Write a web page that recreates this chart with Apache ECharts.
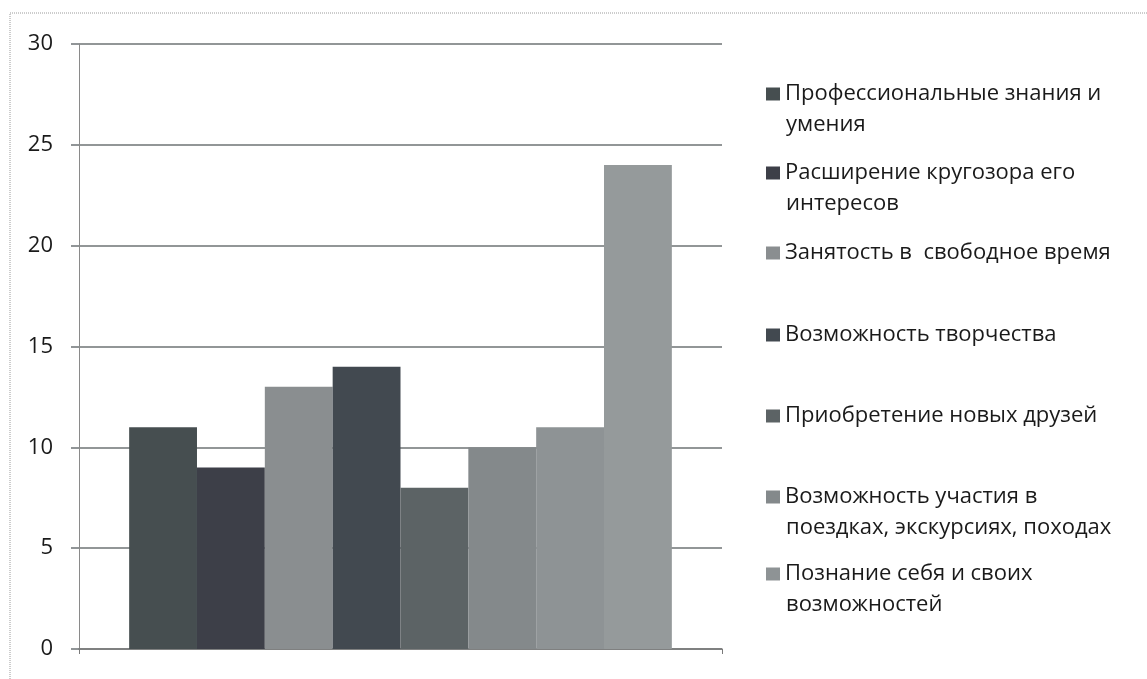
<!DOCTYPE html>
<html>
<head>
<meta charset="utf-8">
<script src="https://cdn.jsdelivr.net/npm/echarts@6/dist/echarts.min.js"></script>
<style>
  html, body { margin: 0; padding: 0; background: #fff; }
  #chart { width: 1147px; height: 679px; }
</style>
</head>
<body>
<div id="chart"></div>
<script>
const CATEGORIES = [''];
const SERIES_NAMES = [
    'Профессиональные знания и умения',
    'Расширение кругозора его интересов',
    'Занятость в  свободное время',
    'Возможность творчества',
    'Приобретение новых друзей',
    'Возможность участия в поездках, экскурсиях, походах',
    'Познание себя и своих возможностей',
    ''
];
// legend text as it wraps in the picture
const LEGEND_LINES = [
    ['Профессиональные знания и', 'умения'],
    ['Расширение кругозора его', 'интересов'],
    ['Занятость в  свободное время'],
    ['Возможность творчества'],
    ['Приобретение новых друзей'],
    ['Возможность участия в', 'поездках, экскурсиях, походах'],
    ['Познание себя и своих', 'возможностей']
];
const VALUES = [11, 9, 13, 14, 8, 10, 11, 24];
const Y_MIN = 0, Y_MAX = 30, Y_STEP = 5;

const COLORS = ['#464e50', '#3d3f48', '#8a8e90', '#424950', '#5c6365', '#84898b', '#8e9395', '#959a9b'];
const LEGEND_CENTERS = [94, 173, 253, 335, 416, 497, 574];
const FONT = '"Open Sans", "Noto Sans", sans-serif';
const LEG_FONT = 22;
const LINE_H = 31;
const LEG_X = 766;
const SWATCH = 14;
const TEXT_X = LEG_X + SWATCH + 6;

const chart = echarts.init(document.getElementById('chart'));

const legends = LEGEND_LINES.map((lines, i) => ({
    data: [{ name: SERIES_NAMES[i], icon: 'rect' }],
    left: LEG_X,
    top: LEGEND_CENTERS[i] - LINE_H / 2,
    padding: 0,
    itemWidth: SWATCH,
    itemHeight: 13,
    itemGap: 6,
    selectedMode: false,
    formatter: () => lines[0],
    textStyle: {
        fontFamily: FONT,
        fontSize: LEG_FONT,
        lineHeight: LINE_H,
        color: '#1a1a1a'
    }
}));

// second lines of the wrapped legend entries
const wrapTexts = [];
LEGEND_LINES.forEach((lines, i) => {
    if (lines.length > 1) {
        wrapTexts.push({
            type: 'text',
            x: TEXT_X,
            y: LEGEND_CENTERS[i] + LINE_H,
            silent: true,
            style: {
                text: lines[1],
                fontFamily: FONT,
                fontSize: LEG_FONT,
                fill: '#1a1a1a',
                verticalAlign: 'middle'
            }
        });
    }
});

chart.setOption({
    backgroundColor: '#ffffff',
    animation: false,
    color: COLORS,
    grid: {
        left: 79,
        right: 425,
        top: 44,
        bottom: 30
    },
    graphic: [{
        type: 'rect',
        shape: { x: 10, y: 13, width: 1300, height: 800 },
        style: { fill: 'none', stroke: '#9a9a9a', lineWidth: 1, lineDash: [1, 1] },
        silent: true
    }].concat(wrapTexts),
    legend: legends,
    xAxis: {
        type: 'category',
        data: CATEGORIES,
        axisLine: { show: true, lineStyle: { color: '#7a7a7a', width: 1.5 } },
        axisTick: { show: true, length: 5, lineStyle: { color: '#7a7a7a' } },
        axisLabel: { show: false }
    },
    yAxis: {
        type: 'value',
        min: Y_MIN,
        max: Y_MAX,
        interval: Y_STEP,
        axisLine: { show: true, lineStyle: { color: '#8a8a8a', width: 1 } },
        axisTick: { show: true, length: 8, lineStyle: { color: '#6e7375', width: 1.5 } },
        axisLabel: {
            fontFamily: FONT,
            fontSize: 22,
            color: '#1a1a1a',
            margin: 26
        },
        splitLine: { show: true, lineStyle: { color: '#6e7375', width: 1.5 } }
    },
    series: VALUES.map((v, i) => ({
        type: 'bar',
        name: SERIES_NAMES[i],
        data: [v],
        barGap: '0%',
        barCategoryGap: '15.6%'
    }))
});
</script>
</body>
</html>
